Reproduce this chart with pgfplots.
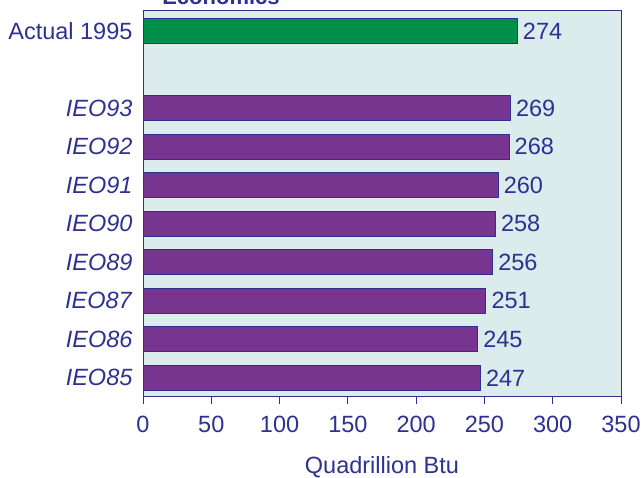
\documentclass[border=0pt]{standalone}
\usepackage{pgfplots}
\pgfplotsset{compat=1.18}
\usepackage{fontspec}
\setmainfont{Liberation Sans}
\definecolor{txtblue}{HTML}{2E3192}
\definecolor{bgc}{HTML}{DCEBEB}
\definecolor{barg}{HTML}{00904A}
\definecolor{barp}{HTML}{77358F}
\begin{document}
\begin{tikzpicture}[x=1pt,y=1pt]
\clip (0,0) rectangle (642,477);
\node[anchor=base, font=\bfseries\fontsize{22}{26}\selectfont, text=txtblue] at (221,472) {Economics};
\begin{axis}[
  at={(143pt,81pt)}, anchor=south west,
  scale only axis, width=478pt, height=386pt,
  xbar, bar shift=0pt, bar width=25pt,
  xmin=0, xmax=350, ymin=-0.47, ymax=9.54,
  xtick={0,50,...,350},
  ytick={0,1,2,3,4,5,6,7,9},
  yticklabels={\textit{IEO85},\textit{IEO86},\textit{IEO87},\textit{IEO89},\textit{IEO90},\textit{IEO91},\textit{IEO92},\textit{IEO93},Actual 1995},
  ytick style={draw=none},
  xtick pos=bottom, tick align=outside, major tick length=8pt,
  xtick style={txtblue, line width=0.8pt},
  axis line style={txtblue, line width=0.8pt},
  axis background/.style={fill=bgc},
  /pgf/number format/assume math mode=true,
  ticklabel style={font=\fontsize{23.5}{27}\selectfont, text=txtblue},
  yticklabel style={xshift=1pt},
  xticklabel style={yshift=-9pt},
  xlabel={Quadrillion Btu},
  xlabel style={font=\fontsize{23.5}{27}\selectfont, text=txtblue, yshift=-16pt},
  nodes near coords,
  every node near coord/.append style={font=\fontsize{23.5}{27}\selectfont, text=txtblue, xshift=2pt},
]
\addplot[fill=barg, draw=txtblue, line width=0.8pt] coordinates {(274,9)};
\addplot[fill=barp, draw=txtblue, line width=0.8pt] coordinates {
(247,0) (245,1) (251,2) (256,3) (258,4) (260,5) (268,6) (269,7)};
\end{axis}
\end{tikzpicture}
\end{document}
